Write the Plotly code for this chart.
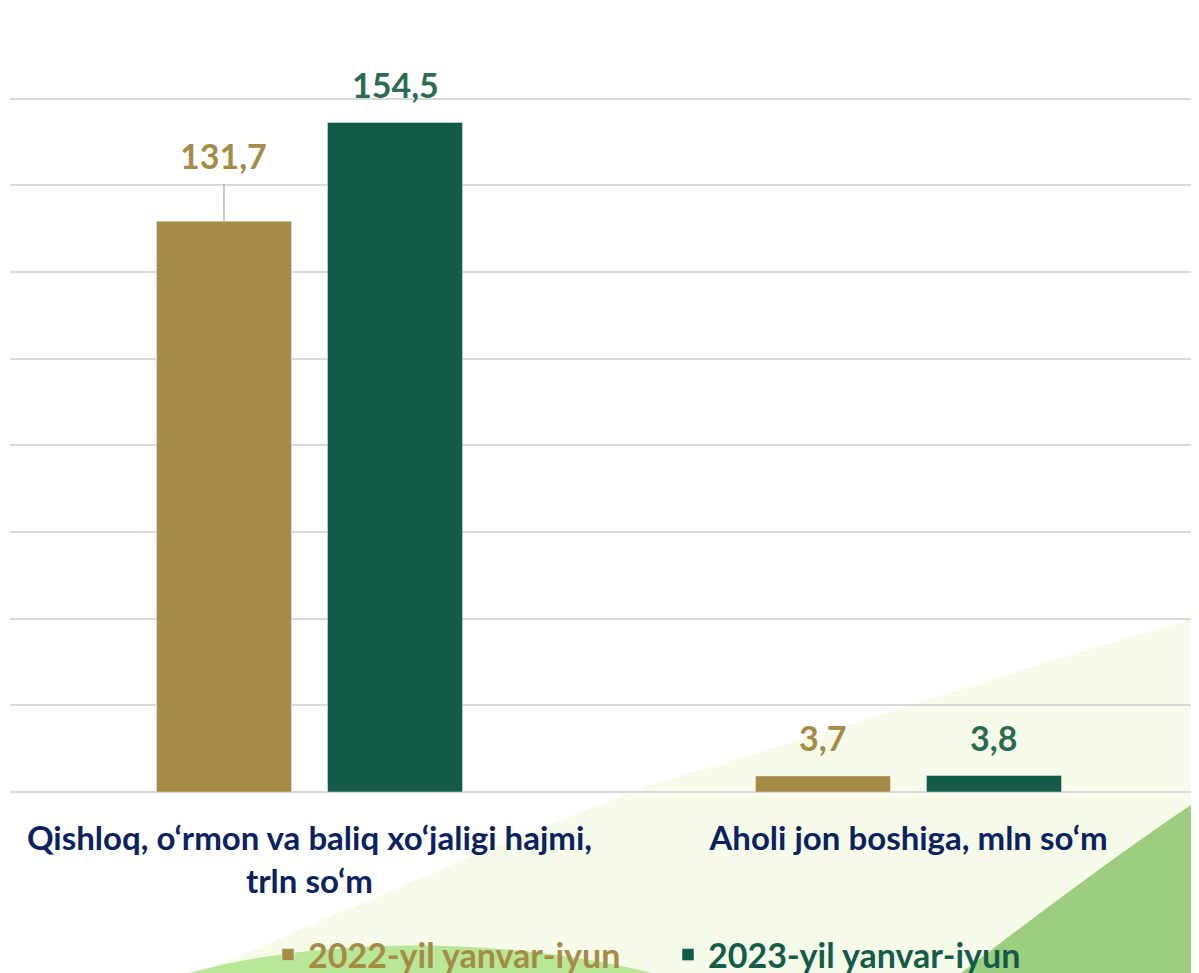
import plotly.graph_objects as go

categories = ["Qishloq, o‘rmon va baliq xo‘jaligi hajmi,<br>trln so‘m", "Aholi jon boshiga, mln so‘m"]
series_names = ["2022-yil yanvar-iyun", "2023-yil yanvar-iyun"]
values_2022 = [131.7, 3.7]
values_2023 = [154.5, 3.8]
labels_2022 = ["131,7", "3,7"]
labels_2023 = ["154,5", "3,8"]

GOLD = "#A68B47"
GREEN = "#135C4A"
GREEN_TXT = "#2B6B54"
NAVY = "#0B2260"
FONT = "Lato, 'Open Sans', sans-serif"

W, H = 1191, 980
ML, MR, MT, MB = 2, 0, 4, 196
XR = [-0.5, 1.485]
BARGAP = 0.429
GROUPGAP = 0.2105

fig = go.Figure()

# decorative background swoosh
fig.add_shape(type="path", xref="paper", yref="paper", layer="below",
              path="M 0.16,-0.232 C 0.3,-0.14 0.45,-0.04 0.551,0.015 C 0.7,0.08 0.85,0.16 1.0,0.224 L 1.0,-0.25 L 0.16,-0.25 Z",
              fillcolor="rgba(240,250,218,0.6)", line=dict(width=0))
fig.add_shape(type="path", xref="paper", yref="paper", layer="below",
              path="M 0.80,-0.232 C 0.87,-0.15 0.95,-0.06 1.0,-0.01 L 1.0,-0.25 L 0.80,-0.25 Z",
              fillcolor="rgba(120,185,80,0.7)", line=dict(width=0))
fig.add_shape(type="path", xref="paper", yref="paper", layer="below",
              path="M 0.15,-0.232 C 0.25,-0.19 0.4,-0.18 0.54,-0.232 Z",
              fillcolor="rgba(120,210,70,0.5)", line=dict(width=0))

fig.add_trace(go.Bar(x=categories, y=values_2022, marker_color=GOLD,
                     name=f"<b><span style='color:{GOLD}'>{series_names[0]}</span></b>"))
fig.add_trace(go.Bar(x=categories, y=values_2023, marker_color=GREEN,
                     name=f"<b><span style='color:{GREEN}'>{series_names[1]}</span></b>"))

# value labels as annotations, offset to each bar's group slot
plot_w = W - ML - MR
px_per_unit = plot_w / (XR[1] - XR[0])
slot = (1 - BARGAP) / 2
off = slot / 2 * px_per_unit

for i, cat in enumerate(categories):
    for vals, labs, sign, col in [(values_2022, labels_2022, -1, GOLD), (values_2023, labels_2023, 1, GREEN_TXT)]:
        if i == 0 and sign == -1:
            fig.add_annotation(x=cat, y=vals[i], xref="x", yref="y", text=f"<b>{labs[i]}</b>",
                               xshift=sign * off, showarrow=True, ax=0, ay=-66, arrowhead=0,
                               arrowcolor="#A6A6A6", arrowwidth=1.2, standoff=0, borderpad=8,
                               font=dict(family=FONT, size=34, color=col))
        else:
            fig.add_annotation(x=cat, y=vals[i], xref="x", yref="y", text=f"<b>{labs[i]}</b>",
                               xshift=sign * off, yshift=16, yanchor="bottom", showarrow=False,
                               font=dict(family=FONT, size=34, color=col))

fig.update_layout(
    width=W, height=H,
    margin=dict(l=ML, r=MR, t=MT, b=MB),
    paper_bgcolor="white", plot_bgcolor="rgba(0,0,0,0)",
    barmode="group", bargap=BARGAP, bargroupgap=GROUPGAP,
    font=dict(family=FONT),
    showlegend=True,
    legend=dict(orientation="h", x=0.217, xanchor="left", y=-0.209, yanchor="middle",
                font=dict(family=FONT, size=34, color=GOLD), entrywidth=355, entrywidthmode="pixels",
                bgcolor="rgba(0,0,0,0)", traceorder="normal"),
    xaxis=dict(range=XR, showgrid=False, showline=False, zeroline=False, automargin=False,
               ticks="outside", ticklen=0, tickcolor="rgba(0,0,0,0)", ticklabelstandoff=17,
               tickfont=dict(family=FONT, size=33, color=NAVY, weight="bold"),
               fixedrange=True),
    yaxis=dict(range=[0, 180], dtick=20, showgrid=True, gridcolor="#D9D9D9", gridwidth=1.5,
               showticklabels=False, zeroline=True, zerolinecolor="#D9D9D9", zerolinewidth=1.5,
               showline=False, automargin=False),
)

fig.write_html("out.html")
